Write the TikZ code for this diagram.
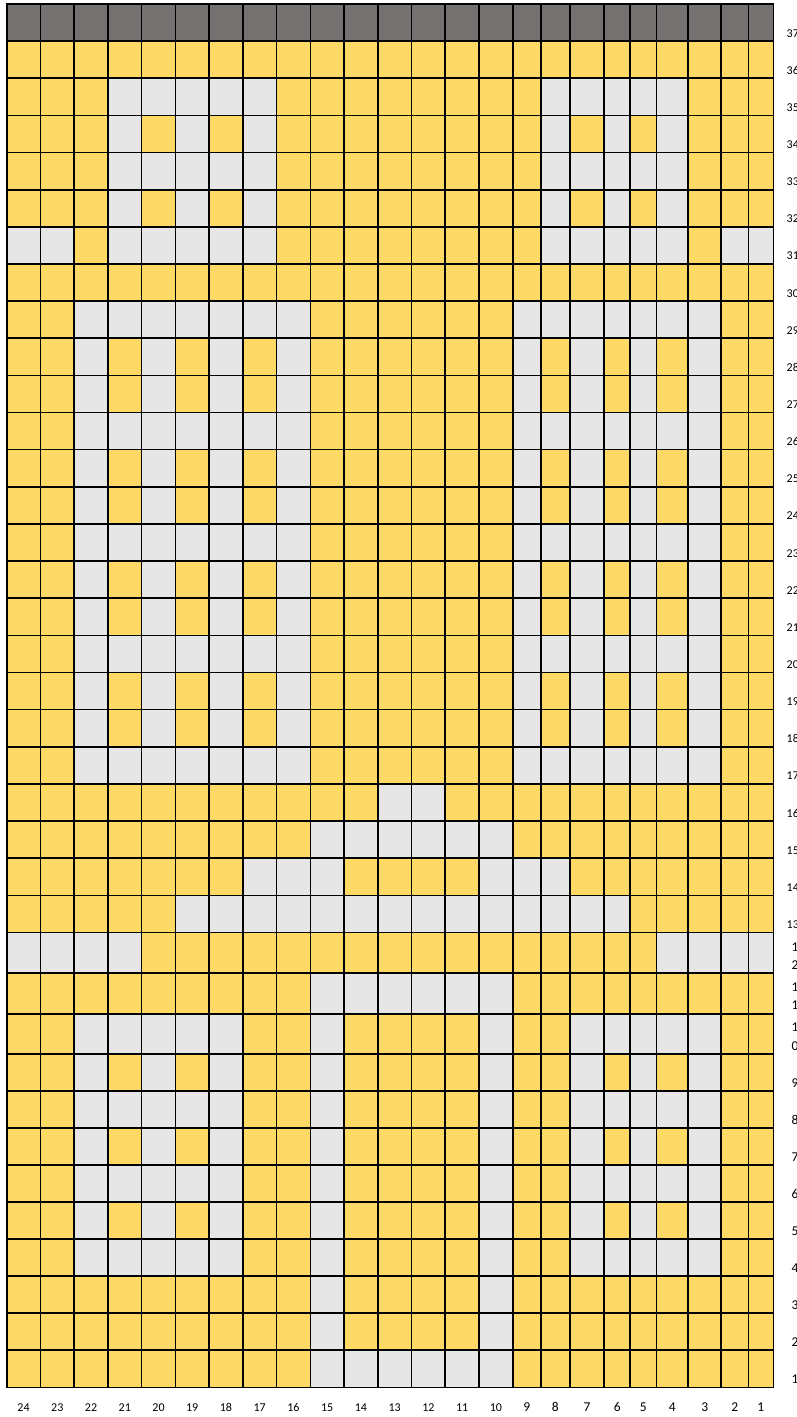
\documentclass[tikz,border=0pt]{standalone}
\usepackage{fontspec}
\setmainfont{Carlito}
\definecolor{cY}{HTML}{FFD966}
\definecolor{cG}{HTML}{E7E6E6}
\definecolor{cD}{HTML}{767171}
% column boundaries (left to right), row boundaries (top to bottom)
\foreach \k in {0,...,15}{\pgfmathsetmacro\v{6.7+33.7333*\k}\expandafter\xdef\csname gx\k\endcsname{\v}}
\expandafter\def\csname gx16\endcsname{540.7}
\expandafter\def\csname gx17\endcsname{569.8}
\expandafter\def\csname gx18\endcsname{604.2}
\expandafter\def\csname gx19\endcsname{630.2}
\expandafter\def\csname gx20\endcsname{656.5}
\expandafter\def\csname gx21\endcsname{688.2}
\expandafter\def\csname gx22\endcsname{721.2}
\expandafter\def\csname gx23\endcsname{748.3}
\expandafter\def\csname gx24\endcsname{773.5}
\foreach \k in {0,...,25}{\pgfmathsetmacro\v{4+37.14*\k}\expandafter\xdef\csname gy\k\endcsname{\v}}
\expandafter\def\csname gy26\endcsname{972.8}
\expandafter\def\csname gy27\endcsname{1013.8}
\expandafter\def\csname gy28\endcsname{1054}
\foreach \k in {29,...,37}{\pgfmathsetmacro\v{1054+37.033*(\k-28)}\expandafter\xdef\csname gy\k\endcsname{\v}}
\newcount\gci
\newcount\gcj
\def\cellrow#1#2{\gcj=#1\relax\global\gci=0\relax\cellparse#2\relax}
\def\cellparse#1{\ifx#1\relax\else\cellput#1\expandafter\cellparse\fi}
\def\cellput#1{\global\advance\gci by 1\relax
 \edef\cxa{\csname gx\the\numexpr\gci-1\relax\endcsname}%
 \edef\cxb{\csname gx\the\gci\endcsname}%
 \edef\cya{\csname gy\the\numexpr\gcj-1\relax\endcsname}%
 \edef\cyb{\csname gy\the\gcj\endcsname}%
 \fill[c#1] (\cxa,\cya) rectangle (\cxb,\cyb);}
\tikzset{
  gline/.style={draw=black,line width=1.6pt,line cap=rect},
  labsmall/.style={inner sep=0pt,text=black,font=\fontsize{12}{14}\selectfont},
  labbig/.style={inner sep=0pt,text=black,font=\fontsize{13.5}{16}\selectfont},
}
\begin{document}
\begin{tikzpicture}[x=1pt,y=-1pt]
\useasboundingbox (0,0) rectangle (797,1417);
\fill[white] (0,0) rectangle (797,1417);
% rows, top (37) to bottom (1); columns 24 ... 1
\cellrow{1}{DDDDDDDDDDDDDDDDDDDDDDDD}
\cellrow{2}{YYYYYYYYYYYYYYYYYYYYYYYY}
\cellrow{3}{YYYGGGGGYYYYYYYYGGGGGYYY}
\cellrow{4}{YYYGYGYGYYYYYYYYGYGYGYYY}
\cellrow{5}{YYYGGGGGYYYYYYYYGGGGGYYY}
\cellrow{6}{YYYGYGYGYYYYYYYYGYGYGYYY}
\cellrow{7}{GGYGGGGGYYYYYYYYGGGGGYGG}
\cellrow{8}{YYYYYYYYYYYYYYYYYYYYYYYY}
\cellrow{9}{YYGGGGGGGYYYYYYGGGGGGGYY}
\cellrow{10}{YYGYGYGYGYYYYYYGYGYGYGYY}
\cellrow{11}{YYGYGYGYGYYYYYYGYGYGYGYY}
\cellrow{12}{YYGGGGGGGYYYYYYGGGGGGGYY}
\cellrow{13}{YYGYGYGYGYYYYYYGYGYGYGYY}
\cellrow{14}{YYGYGYGYGYYYYYYGYGYGYGYY}
\cellrow{15}{YYGGGGGGGYYYYYYGGGGGGGYY}
\cellrow{16}{YYGYGYGYGYYYYYYGYGYGYGYY}
\cellrow{17}{YYGYGYGYGYYYYYYGYGYGYGYY}
\cellrow{18}{YYGGGGGGGYYYYYYGGGGGGGYY}
\cellrow{19}{YYGYGYGYGYYYYYYGYGYGYGYY}
\cellrow{20}{YYGYGYGYGYYYYYYGYGYGYGYY}
\cellrow{21}{YYGGGGGGGYYYYYYGGGGGGGYY}
\cellrow{22}{YYYYYYYYYYYGGYYYYYYYYYYY}
\cellrow{23}{YYYYYYYYYGGGGGGYYYYYYYYY}
\cellrow{24}{YYYYYYYGGGYYYYGGGYYYYYYY}
\cellrow{25}{YYYYYGGGGGGGGGGGGGGYYYYY}
\cellrow{26}{GGGGYYYYYYYYYYYYYYYYGGGG}
\cellrow{27}{YYYYYYYYYGGGGGGYYYYYYYYY}
\cellrow{28}{YYGGGGGYYGYYYYGYYGGGGGYY}
\cellrow{29}{YYGYGYGYYGYYYYGYYGYGYGYY}
\cellrow{30}{YYGGGGGYYGYYYYGYYGGGGGYY}
\cellrow{31}{YYGYGYGYYGYYYYGYYGYGYGYY}
\cellrow{32}{YYGGGGGYYGYYYYGYYGGGGGYY}
\cellrow{33}{YYGYGYGYYGYYYYGYYGYGYGYY}
\cellrow{34}{YYGGGGGYYGYYYYGYYGGGGGYY}
\cellrow{35}{YYYYYYYYYGYYYYGYYYYYYYYY}
\cellrow{36}{YYYYYYYYYGYYYYGYYYYYYYYY}
\cellrow{37}{YYYYYYYYYGGGGGGYYYYYYYYY}
% grid lines
\edef\gytop{\csname gy0\endcsname}
\edef\gybot{\csname gy37\endcsname}
\edef\gxl{\csname gx0\endcsname}
\edef\gxr{\csname gx24\endcsname}
\foreach \k in {0,...,24}{\edef\gxx{\csname gx\k\endcsname}\draw[gline] (\gxx,\gytop) -- (\gxx,\gybot);}
\foreach \k in {0,...,37}{\edef\gyy{\csname gy\k\endcsname}\draw[gline] (\gxl,\gyy) -- (\gxr,\gyy);}
% row labels
\foreach \j in {1,...,25}{\pgfmathtruncatemacro\r{38-\j}\edef\yy{\csname gy\j\endcsname}
  \node[labsmall,anchor=base west] (rl\r) at (786.5,\yy-4) {\r};}
\foreach \j in {29,...,37}{\pgfmathtruncatemacro\r{38-\j}\edef\yy{\csname gy\j\endcsname}
  \node[labbig,anchor=base west] (rl\r) at (791.5,\yy-3.5) {\r};}
\node[labbig,anchor=base west] (rl12a) at (791.5,951.3) {1};
\node[labbig,anchor=base west] (rl12b) at (791.5,969.6) {2};
\node[labbig,anchor=base west] (rl11a) at (791.5,991.3) {1};
\node[labbig,anchor=base west] (rl11b) at (791.5,1009.6) {1};
\node[labbig,anchor=base west] (rl10a) at (791.5,1031.6) {1};
\node[labbig,anchor=base west] (rl10b) at (791.5,1050.3) {0};
% column labels
\foreach \i in {1,...,24}{\pgfmathtruncatemacro\c{25-\i}\pgfmathtruncatemacro\ip{\i-1}
  \edef\xa{\csname gx\ip\endcsname}\edef\xb{\csname gx\i\endcsname}
  \ifnum\i<16
    \node[labsmall,anchor=base] (cl\c) at ({(\xa+\xb)/2},1411.5) {\c};
  \else
    \node[labbig,anchor=base] (cl\c) at ({(\xa+\xb)/2},1411.5) {\c};
  \fi}
\end{tikzpicture}
\end{document}
